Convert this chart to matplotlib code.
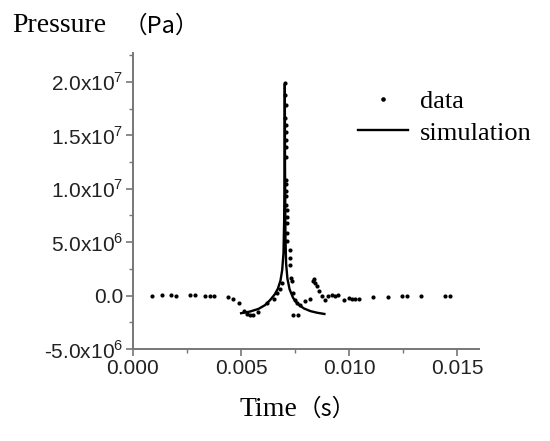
import matplotlib
matplotlib.use("Agg")
import matplotlib.pyplot as plt
from matplotlib.ticker import FuncFormatter, MultipleLocator

plt.rcParams["mathtext.fontset"] = "custom"
plt.rcParams["mathtext.rm"] = "Liberation Sans"

# measured data (time in s, pressure in 1e6 Pa)
data_t = [0.00088, 0.00133, 0.00176, 0.00198, 0.00264, 0.00287, 0.00333, 0.00356,
          0.00375, 0.00441, 0.00464, 0.00488, 0.00514, 0.00529, 0.00542, 0.00557,
          0.00580, 0.00619, 0.00650, 0.00667, 0.00681, 0.00688,
          0.00704, 0.00705, 0.00706, 0.00705, 0.00706, 0.00707, 0.00706, 0.00707,
          0.00706, 0.00708, 0.00708, 0.00709, 0.00708, 0.00709, 0.00710, 0.00710,
          0.00711, 0.00712, 0.00712,
          0.00727, 0.00727, 0.00728, 0.00730, 0.00734, 0.00742, 0.00750, 0.00758,
          0.00770, 0.00738, 0.00761, 0.00796, 0.00820, 0.00832, 0.00838, 0.00843,
          0.00850, 0.00858, 0.00874, 0.00889, 0.00904, 0.00920, 0.00935, 0.00950,
          0.00975, 0.00997, 0.01013, 0.01028, 0.01043, 0.01110, 0.01179, 0.01244,
          0.01267, 0.01333, 0.01444, 0.01468]
data_p = [0.00, 0.07, 0.03, 0.00, 0.07, 0.07, 0.00, 0.00,
          0.00, -0.12, -0.31, -0.68, -1.40, -1.68, -1.78, -1.78,
          -1.50, -0.68, -0.31, 0.25, 0.60, 1.20,
          19.9, 18.8, 17.85, 16.6, 16.0, 15.35, 14.6, 13.95,
          13.0, 10.85, 10.4, 9.75, 9.3, 8.5, 8.04, 7.4,
          6.8, 5.86, 5.07,
          4.3, 3.5, 2.9, 1.65, 1.34, 0.25, -0.37, -0.68,
          -0.84, -1.78, -1.78, -0.53, -0.31, 1.34, 1.56, 1.19,
          0.87, 0.40, -0.07, -0.37, -0.07, 0.09, -0.07, 0.09,
          -0.37, -0.22, -0.28, -0.28, -0.28, -0.16, -0.12, -0.07,
          -0.07, -0.07, -0.07, 0.00]

# simulation curve
sim_t = [0.00500, 0.00540, 0.00580, 0.00610, 0.00635, 0.00655, 0.00670, 0.00682,
         0.00690, 0.00696, 0.00699, 0.00701, 0.00702, 0.00703, 0.00705, 0.00708,
         0.00714, 0.00724, 0.00740, 0.00760, 0.00790, 0.00820, 0.00850, 0.00885]
sim_p = [-1.65, -1.50, -1.25, -0.90, -0.40, 0.10, 0.65, 1.40,
         2.40, 4.00, 7.00, 12.0, 19.8, 12.0, 5.50, 3.00,
         1.60, 0.60, -0.20, -0.75, -1.20, -1.45, -1.60, -1.72]

x_ticks = [0.000, 0.005, 0.010, 0.015]
y_ticks = [-5e6, 0, 5e6, 1e7, 1.5e7, 2e7]

fig = plt.figure(figsize=(5.5, 4.41), dpi=100)
ax = fig.add_axes([0.2418, 0.2086, 0.8709 - 0.2418, 0.8798 - 0.2086])

ax.plot(data_t, [p * 1e6 for p in data_p], "o", color="black", ms=3,
        mec="none", label="data")
ax.plot(sim_t, [p * 1e6 for p in sim_p], "-", color="black", lw=1.7,
        label="simulation")

ax.set_xlim(0, 0.016)
ax.set_ylim(-5e6, 2.27e7)
ax.set_xticks(x_ticks)
ax.set_yticks(y_ticks)
ax.xaxis.set_minor_locator(MultipleLocator(0.0025))
ax.yaxis.set_minor_locator(MultipleLocator(2.5e6))
ax.xaxis.set_major_formatter(FuncFormatter(lambda v, pos: f"{v:.3f}"))


def sci(v, pos):
    if v == 0:
        return "0.0"
    e = len(str(int(abs(v)))) - 1
    m = v / 10 ** e
    return f"{m:.1f}x10$^{{\\mathregular{{{e}}}}}$"


ax.yaxis.set_major_formatter(FuncFormatter(sci))

for s in ["top", "right"]:
    ax.spines[s].set_visible(False)
for s in ["left", "bottom"]:
    ax.spines[s].set_color("#777777")
    ax.spines[s].set_linewidth(1.4)
ax.tick_params(which="major", length=5, width=1.2, color="#777777",
               labelsize=15, pad=2)
ax.tick_params(which="minor", length=3, width=1.0, color="#777777")
for lab in ax.get_xticklabels() + ax.get_yticklabels():
    lab.set_fontfamily("Liberation Sans")
    lab.set_color("#222222")

ax.legend(loc="upper left", bbox_to_anchor=(334 / 550, 1 - 66 / 441),
          bbox_transform=fig.transFigure, frameon=False,
          prop={"family": "Liberation Serif", "size": 19},
          handlelength=1.9, handletextpad=0.45, labelspacing=0.3,
          borderpad=0.4, markerscale=1.1)

fig.text(12 / 550, 1 - 26 / 441, "Pressure", family="Liberation Serif",
         fontsize=20, va="center", ha="left")
fig.text(124 / 550, 1 - 26 / 441, "（Pa）", family="Noto Sans CJK SC",
         fontsize=17, va="center", ha="left")
fig.text(240 / 550, 1 - 409 / 441, "Time", family="Liberation Serif",
         fontsize=20, va="center", ha="left")
fig.text(298 / 550, 1 - 409 / 441, "（s）", family="Noto Sans CJK SC",
         fontsize=17, va="center", ha="left")

fig.savefig("out.png", dpi=100)
